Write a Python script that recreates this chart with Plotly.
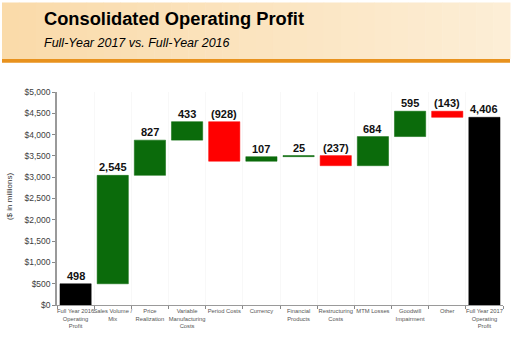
import plotly.graph_objects as go

# Operating profit bridge, $ in millions
categories = [
    "Full Year 2016<br>Operating<br>Profit",
    "Sales Volume /<br>Mix",
    "Price<br>Realization",
    "Variable<br>Manufacturing<br>Costs",
    "Period Costs",
    "Currency",
    "Financial<br>Products",
    "Restructuring<br>Costs",
    "MTM Losses",
    "Goodwill<br>Impairment",
    "Other",
    "Full Year 2017<br>Operating<br>Profit",
]
start_total = 498
changes = [2545, 827, 433, -928, 107, 25, -237, 684, 595, -143]
end_total = 4406
y_ticks = [0, 500, 1000, 1500, 2000, 2500, 3000, 3500, 4000, 4500, 5000]

GREEN = "#0b6b0b"
RED = "#ff0000"
BLACK = "#000000"

# build floating bars from running totals
bases, heights, colors, labels, tops = [], [], [], [], []
bases.append(0); heights.append(start_total); colors.append(BLACK)
labels.append(f"{start_total:,}"); tops.append(start_total)
running = start_total
for d in changes:
    new = running + d
    bases.append(min(running, new))
    heights.append(abs(d))
    colors.append(GREEN if d >= 0 else RED)
    labels.append(f"{d:,}" if d >= 0 else f"({abs(d):,})")
    tops.append(max(running, new))
    running = new
bases.append(0); heights.append(end_total); colors.append(BLACK)
labels.append(f"{end_total:,}"); tops.append(end_total)

W, H = 513, 339
ML, MR, MT, MB = 57, 10, 92, 28
PW, PH = W - ML - MR, H - MT - MB


def px_x(x):
    return (x - ML) / PW


def px_y(y):
    return (H - MB - y) / PH


fig = go.Figure()
fig.add_trace(go.Bar(
    x=categories, y=heights, base=bases,
    marker=dict(color=colors, line=dict(color=colors, width=0.5)),
    hoverinfo="skip", showlegend=False,
))

annotations = []
for cat, top, lab in zip(categories, tops, labels):
    annotations.append(dict(
        x=cat, y=top, xref="x", yref="y", text=f"<b>{lab}</b>",
        showarrow=False, yanchor="bottom", yshift=0,
        font=dict(family="Arial, Liberation Sans", size=11, color="#111111"),
    ))

# header band
shapes = []
n_strips = 30
x0_px, x1_px = 2, 510
for i in range(n_strips):
    t = i / (n_strips - 1)
    r = int(250 + (253 - 250) * t)
    g = int(219 + (238 - 219) * t)
    b = int(170 + (214 - 170) * t)
    xa = x0_px + (x1_px - x0_px) * i / n_strips
    xb = x0_px + (x1_px - x0_px) * (i + 1) / n_strips + 0.5
    shapes.append(dict(type="rect", xref="paper", yref="paper",
                       x0=px_x(xa), x1=px_x(xb), y0=px_y(58), y1=px_y(0),
                       fillcolor=f"rgb({r},{g},{b})", line=dict(width=0), layer="below"))
shapes.append(dict(type="rect", xref="paper", yref="paper",
                   x0=px_x(x0_px), x1=px_x(x1_px), y0=px_y(62), y1=px_y(58),
                   fillcolor="#e8921e", line=dict(width=0)))

annotations += [
    dict(x=px_x(42), y=px_y(16), xref="paper", yref="paper", xanchor="left", yanchor="middle",
         text="<b>Consolidated Operating Profit</b>", showarrow=False,
         font=dict(family="Arial, Liberation Sans", size=18.3, color="#000000")),
    dict(x=px_x(42), y=px_y(42), xref="paper", yref="paper", xanchor="left", yanchor="middle",
         text="<i>Full-Year 2017 vs. Full-Year 2016</i>", showarrow=False,
         font=dict(family="Arial, Liberation Sans", size=12.5, color="#000000")),
    dict(x=px_x(9), y=px_y(200), xref="paper", yref="paper", xanchor="center", yanchor="middle",
         text="($ in millions)", textangle=-90, showarrow=False,
         font=dict(family="Arial, Liberation Sans", size=8, color="#333333")),
]

fig.update_layout(
    width=W, height=H,
    margin=dict(l=ML, r=MR, t=MT, b=MB),
    paper_bgcolor="white", plot_bgcolor="white",
    bargap=0.16,
    shapes=shapes, annotations=annotations,
    xaxis=dict(
        type="category", tickson="boundaries", ticks="outside", ticklen=3,
        tickcolor="#888888", showline=True, linecolor="#9a9a9a", linewidth=1,
        showgrid=True, gridcolor="#f8f8f8",
        tickfont=dict(family="Arial, Liberation Sans", size=5.8, color="#555555"),
        tickangle=0, fixedrange=True,
    ),
    yaxis=dict(
        range=[0, 5000], tickvals=y_ticks,
        ticktext=[f"${v:,}" for v in y_ticks],
        ticks="outside", ticklen=3, tickcolor="#888888",
        showline=True, linecolor="#9a9a9a", linewidth=1.5,
        showgrid=False, zeroline=False,
        tickfont=dict(family="Arial, Liberation Sans", size=8.5, color="#404040"),
        fixedrange=True,
    ),
)

fig.write_html("out.html")
